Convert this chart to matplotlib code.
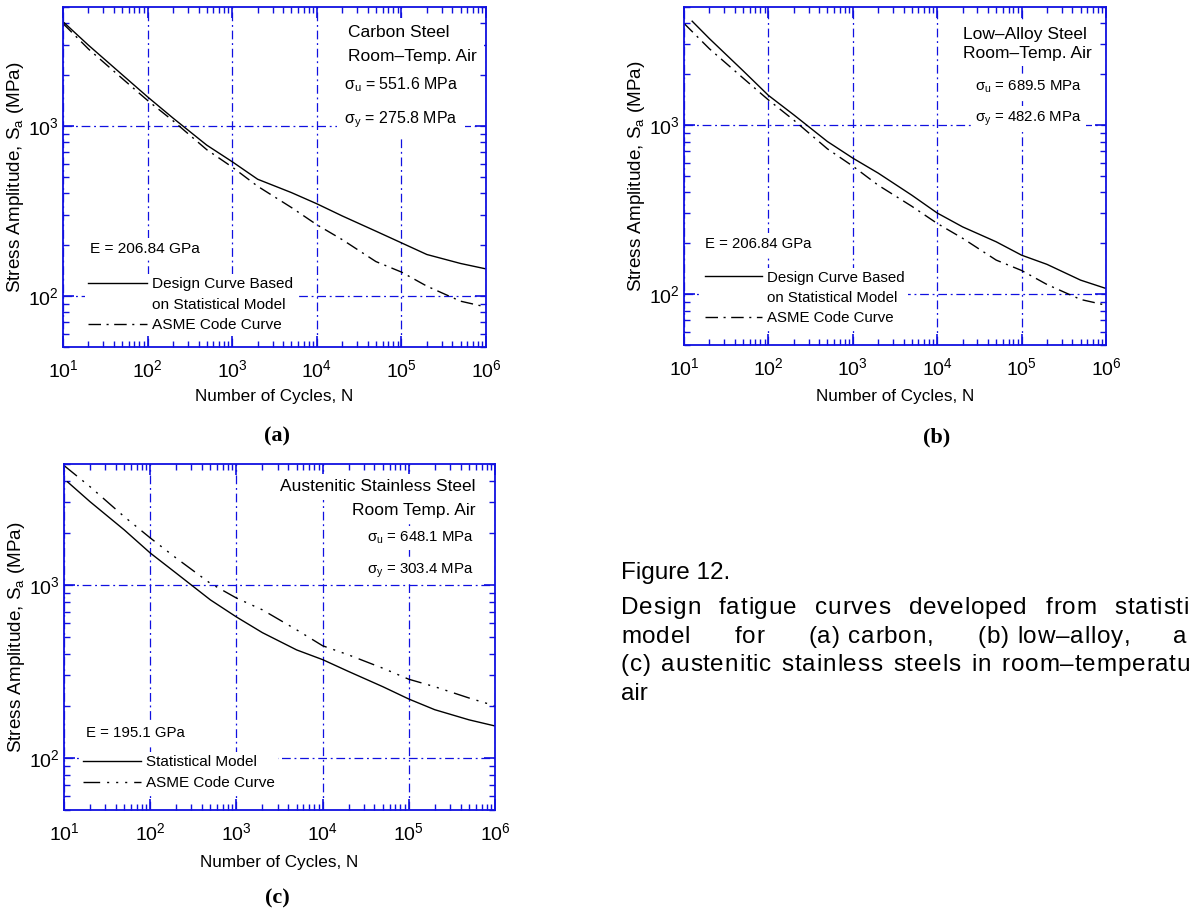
import matplotlib
matplotlib.use("Agg")
import matplotlib.pyplot as plt
from matplotlib.lines import Line2D
from matplotlib.ticker import LogLocator, NullFormatter
from matplotlib.font_manager import FontProperties
import numpy as np

plt.rcParams['font.family'] = ['Liberation Sans', 'DejaVu Sans']
plt.rcParams['mathtext.default'] = 'regular'

# ---- data (MPa vs cycles) ----
n_asme = [10, 20, 50, 100, 200, 500, 1e3, 2e3, 5e3, 1e4, 2e4, 5e4, 1e5, 2e5, 5e5, 1e6]

# (a) carbon steel
n_stat_a = [10, 20, 50, 100, 200, 500, 1e3, 2e3, 5e3, 1e4, 2e4, 5e4, 1e5, 2e5, 5e5, 1e6]
stat_a = [4100, 2980, 2000, 1480, 1110, 770, 615, 485, 405, 348, 295, 240, 205, 175, 155, 144]
asme_a = [4000, 2830, 1900, 1410, 1070, 724, 572, 441, 331, 262, 214, 159, 138, 114, 93, 86]

# (b) low-alloy steel
n_stat_b = [12.5, 20, 50, 100, 200, 500, 1e3, 2e3, 5e3, 1e4, 2e4, 5e4, 1e5, 2e5, 5e5, 1e6]
stat_b = [4120, 3250, 2100, 1500, 1150, 800, 638, 520, 385, 302, 250, 204, 170, 150, 121, 108]
asme_b = [4000, 2830, 1900, 1410, 1070, 724, 572, 441, 331, 262, 214, 159, 138, 114, 93, 86]

# (c) austenitic stainless steel
n_stat_c = [11, 20, 50, 100, 200, 500, 1e3, 2e3, 5e3, 1e4, 2e4, 5e4, 1e5, 2e5, 5e5, 1e6]
stat_c = [3940, 3030, 2080, 1530, 1170, 819, 653, 530, 421, 370, 316, 258, 219, 190, 166, 153]
asme_c = [4900, 3700, 2480, 1870, 1430, 1020, 840, 718, 550, 445, 394, 330, 285, 258, 222, 200]

# caption, justified lines given as words ('~' joins words with a plain space)
cap_title = 'Figure 12.'
cap_lines = [['Design', 'fatigue', 'curves', 'developed', 'from', 'statistical'],
             ['model', 'for', '(a)~carbon,', '(b)~low\u2013alloy,', 'and'],
             ['(c)', 'austenitic', 'stainless', 'steels', 'in', 'room\u2013temperature']]
cap_last = 'air'

BLUE = '#1010e0'
W, H = 1189, 911


def px_axes(l, t, r, b):
    return [l / W, 1 - b / H, (r - l) / W, (b - t) / H]


def style(ax, xlab_y):
    ax.set_xscale('log')
    ax.set_yscale('log')
    ax.set_xlim(10, 1e6)
    ax.set_ylim(50, 5000)
    for s in ax.spines.values():
        s.set_color(BLUE)
        s.set_linewidth(1.3)
    ax.xaxis.set_major_locator(LogLocator(base=10, numticks=10))
    ax.yaxis.set_major_locator(LogLocator(base=10, numticks=10))
    ax.xaxis.set_minor_locator(LogLocator(base=10, subs=np.arange(2, 10), numticks=20))
    ax.yaxis.set_minor_locator(LogLocator(base=10, subs=np.arange(2, 10), numticks=20))
    ax.xaxis.set_minor_formatter(NullFormatter())
    ax.yaxis.set_minor_formatter(NullFormatter())
    ax.tick_params(which='both', direction='in', top=True, right=True,
                   color=BLUE, labelcolor='black', labelsize=14)
    ax.tick_params(which='major', length=8, width=1.2)
    ax.tick_params(which='minor', length=4.5, width=1.0)
    ax.tick_params(axis='x', which='major', pad=9)
    ax.tick_params(axis='y', which='major', pad=3)
    ax.grid(True, which='major', color=BLUE, linestyle=(0, (7, 3, 1.5, 3)), linewidth=0.9)
    ax.set_axisbelow(True)
    ax.set_xlabel('Number of Cycles, N', fontsize=12.3)
    ax.set_ylabel('Stress Amplitude, S$_a$ (MPa)', fontsize=13.6)
    ax.xaxis.set_label_coords(0.5, xlab_y)
    ax.yaxis.set_label_coords(-0.087, 0.5)


def note(ax, x, y, s, size, ha='left', pad=3):
    ax.text(x, y, s, transform=ax.transAxes, fontsize=size, ha=ha, va='center',
            zorder=5, bbox=dict(facecolor='white', edgecolor='none', pad=pad))


def legend(ax, handles, labels, x, y, size, spacing):
    ax.legend(handles, labels, loc='center left', bbox_to_anchor=(x, y), fontsize=size,
              handlelength=3.8, handletextpad=0.33, labelspacing=spacing, borderpad=0.2,
              borderaxespad=0, frameon=True, fancybox=False, framealpha=1,
              facecolor='white', edgecolor='none')


fig = plt.figure(figsize=(W / 100, H / 100), dpi=100)

dashdot = (0, (9, 4, 1.5, 4))
dashdotdot = (0, (12, 5, 1.5, 5, 1.5, 5, 1.5, 5))
blank = Line2D([], [], linestyle='none')

# ---- (a) ----
ax = fig.add_axes(px_axes(63, 7, 486, 347))
style(ax, -0.124)
l1, = ax.plot(n_stat_a, stat_a, color='black', lw=1.0)
l2, = ax.plot(n_asme, asme_a, color='black', lw=1.0, linestyle=dashdot)
note(ax, 0.674, 0.926, 'Carbon Steel', 12.5, pad=5)
note(ax, 0.674, 0.853, 'Room\u2013Temp. Air', 12.5, pad=5)
note(ax, 0.665, 0.771, '\u03c3$_u$ = 551.6 MPa', 11.5, pad=5)
note(ax, 0.665, 0.668, '\u03c3$_y$ = 275.8 MPa', 11.5, pad=5)
note(ax, 0.064, 0.288, 'E = 206.84 GPa', 11.1)
legend(ax, [l1, blank, l2], ['Design Curve Based', 'on Statistical Model', 'ASME Code Curve'],
       0.052, 0.124, 11.1, 0.42)

# ---- (b) ----
ax = fig.add_axes(px_axes(684, 7, 1106, 345))
style(ax, -0.130)
l1, = ax.plot(n_stat_b, stat_b, color='black', lw=1.0)
l2, = ax.plot(n_asme, asme_b, color='black', lw=1.0, linestyle=dashdot)
note(ax, 0.661, 0.920, 'Low\u2013Alloy Steel', 12.5)
note(ax, 0.661, 0.861, 'Room\u2013Temp. Air', 12.5)
note(ax, 0.690, 0.763, '\u03c3$_u$ = 689.5 MPa', 10.8)
note(ax, 0.690, 0.669, '\u03c3$_y$ = 482.6 MPa', 10.8)
note(ax, 0.050, 0.299, 'E = 206.84 GPa', 10.7)
legend(ax, [l1, blank, l2], ['Design Curve Based', 'on Statistical Model', 'ASME Code Curve'],
       0.043, 0.139, 10.8, 0.42)

# ---- (c) ----
ax = fig.add_axes(px_axes(64, 464, 495, 810))
style(ax, -0.130)
l1, = ax.plot(n_stat_c, stat_c, color='black', lw=1.0)
l2, = ax.plot(n_asme, asme_c, color='black', lw=1.0, linestyle=dashdotdot)
note(ax, 0.954, 0.934, 'Austenitic Stainless Steel', 12.5, ha='right', pad=4)
note(ax, 0.954, 0.867, 'Room Temp. Air', 12.5, ha='right', pad=4)
note(ax, 0.702, 0.786, '\u03c3$_u$ = 648.1 MPa', 10.8)
note(ax, 0.702, 0.692, '\u03c3$_y$ = 303.4 MPa', 10.8)
note(ax, 0.051, 0.223, 'E = 195.1 GPa', 10.8)
legend(ax, [l1, l2], ['Statistical Model', 'ASME Code Curve'],
       0.037, 0.108, 11.0, 0.47)

# ---- panel labels ----
for x, y, s in [(277, 436, '(a)'), (937, 437, '(b)'), (277, 898, '(c)')]:
    fig.text(x / W, 1 - y / H, s, ha='center', va='center', fontsize=16,
             fontweight='bold', family='Liberation Serif')

# ---- caption: justified text like the source document ----
renderer = fig.canvas.get_renderer()
cap_prop = FontProperties(family='Liberation Sans', size=17.5)


def tw(s):
    if not s:
        return 0.0
    return renderer.get_text_width_height_descent(s, cap_prop, ismath=False)[0]


track = 0.8
x0 = 621


def word_width(word):
    return tw(word) + (len(word) - 1) * track


def draw_word(x, y, word):
    for i, ch in enumerate(word):
        cx = x + tw(word[:i]) + i * track
        if cx >= W or ch == ' ':
            continue
        fig.text(cx / W, 1 - y / H, ch, ha='left', va='baseline', fontproperties=cap_prop)


def draw_line(words, y, right):
    words = [w.replace('~', ' ') for w in words]
    widths = [word_width(w) for w in words]
    gap = (right - x0 - sum(widths)) / (len(words) - 1)
    x = x0
    for w, wd in zip(words, widths):
        draw_word(x, y, w)
        x += wd + gap


base = [579, 614, 643, 671, 700]
fig.text(x0 / W, 1 - base[0] / H, cap_title, ha='left', va='baseline', fontproperties=cap_prop)
draw_line(cap_lines[0], base[1], 1222)
draw_line(cap_lines[1], base[2], 1215)
draw_line(cap_lines[2], base[3], 1213)
fig.text(x0 / W, 1 - base[4] / H, cap_last, ha='left', va='baseline', fontproperties=cap_prop)

fig.savefig('out.png', dpi=100)
